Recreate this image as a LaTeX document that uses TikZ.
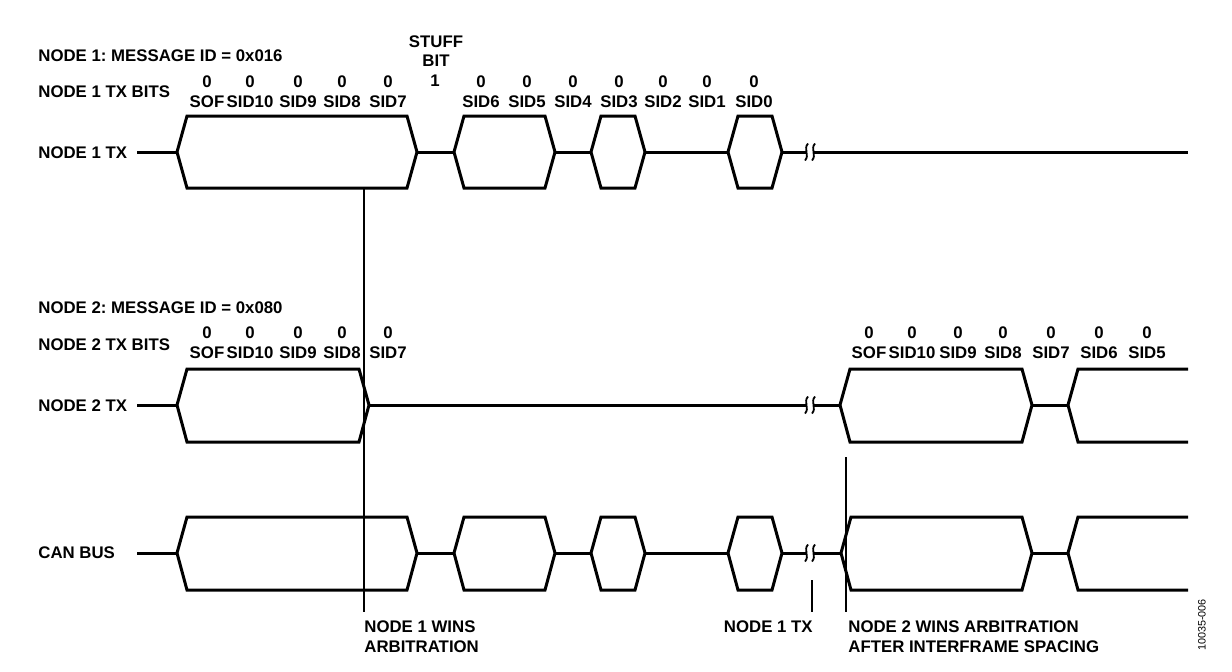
\documentclass[tikz,border=0pt]{standalone}
\usepackage{fontspec}
\setmainfont{Liberation Sans}
\frenchspacing
\begin{document}
\begin{tikzpicture}[x=0.5pt,y=-0.5pt,
  wave/.style={line width=1.5pt,line join=miter},
  thin/.style={line width=0.6pt},
  sq/.style={line width=0.9pt},
  lbl/.style={font=\bfseries\fontsize{8.4}{10}\selectfont,inner sep=0pt},
  tag/.style={font=\fontsize{5.4}{6}\selectfont,inner sep=0pt}]
\useasboundingbox (0,0) rectangle (1232,671);
% hexagon: #1 left point, #2 right point, #3 top, #4 mid, #5 bottom
\newcommand\hexb[5]{\draw[wave] (#1,#4) -- (#1+10,#3) -- (#2-10,#3) -- (#2,#4) -- (#2-10,#5) -- (#1+10,#5) -- cycle;}
\newcommand\openb[4]{\draw[wave] (1188,#2) -- (#1+10,#2) -- (#1,#3) -- (#1+10,#4) -- (1188,#4);}
\newcommand\squig[1]{%
  \fill[white] (806,#1-7) rectangle (814,#1+7);
  \draw[sq] (808,#1-8.5) .. controls (803,#1-3) and (810,#1+3) .. (805,#1+8.5);
  \draw[sq] (815,#1-8.5) .. controls (810,#1-3) and (817,#1+3) .. (812,#1+8.5);}

% ---------- NODE 1 ----------
\node[lbl,anchor=west] (m1) at (38,56) {NODE 1: MESSAGE ID = 0x016};
\node[lbl,anchor=west] (b1) at (38,92) {NODE 1 TX BITS};
\node[lbl,anchor=west] (t1) at (38,153) {NODE 1 TX};
\node[lbl] (stuffA) at (436,42) {STUFF};
\node[lbl] (stuffB) at (436,61) {BIT};
\node[lbl] (stuffC) at (435,81) {1};
\foreach \x/\n [count=\i] in {207/SOF,250/SID10,298/SID9,342/SID8,388/SID7,481/SID6,527/SID5,573/SID4,619/SID3,663/SID2,707/SID1,754/SID0}{
  \node[lbl] (na\i) at (\x,82) {0};
  \node[lbl] (nb\i) at (\x,102) {\n};
}
\draw[wave] (137,152) -- (177,152);
\hexb{177}{417}{116}{152}{188}
\draw[wave] (417,152) -- (454,152);
\hexb{454}{555}{116}{152}{188}
\draw[wave] (555,152) -- (591,152);
\hexb{591}{645}{116}{152}{188}
\draw[wave] (645,152) -- (728,152);
\hexb{728}{782}{116}{152}{188}
\draw[wave] (782,152) -- (1188,152);
\squig{152}

% ---------- NODE 2 ----------
\node[lbl,anchor=west] (m2) at (38,308) {NODE 2: MESSAGE ID = 0x080};
\node[lbl,anchor=west] (b2) at (38,345) {NODE 2 TX BITS};
\node[lbl,anchor=west] (t2) at (38,406) {NODE 2 TX};
\foreach \x/\n [count=\i] in {207/SOF,250/SID10,298/SID9,342/SID8,388/SID7}{
  \node[lbl] (pa\i) at (\x,333) {0};
  \node[lbl] (pb\i) at (\x,353) {\n};
}
\foreach \x/\n [count=\i] in {869/SOF,912/SID10,958/SID9,1003/SID8,1051/SID7,1099/SID6,1147/SID5}{
  \node[lbl] (qa\i) at (\x,333) {0};
  \node[lbl] (qb\i) at (\x,353) {\n};
}
\draw[wave] (137,405) -- (177,405);
\hexb{177}{369}{369}{405}{442}
\draw[wave] (369,405) -- (840,405);
\squig{405}
\hexb{840}{1032}{369}{405}{442}
\draw[wave] (1032,405) -- (1068,405);
\openb{1068}{369}{405}{442}

% ---------- CAN BUS ----------
\node[lbl,anchor=west] (cb) at (38,553) {CAN BUS};
\draw[wave] (137,553) -- (177,553);
\hexb{177}{417}{517}{553}{590}
\draw[wave] (417,553) -- (454,553);
\hexb{454}{555}{517}{553}{590}
\draw[wave] (555,553) -- (591,553);
\hexb{591}{645}{517}{553}{590}
\draw[wave] (645,553) -- (728,553);
\hexb{728}{782}{517}{553}{590}
\draw[wave] (782,553) -- (841,553);
\squig{553}
\hexb{841}{1032}{517}{553}{590}
\draw[wave] (1032,553) -- (1068,553);
\openb{1068}{517}{553}{590}

% ---------- markers ----------
\coordinate (v1a) at (364,189);
\coordinate (v1b) at (364,612);
\coordinate (v2a) at (812,580);
\coordinate (v2b) at (812,612);
\coordinate (v3a) at (846,457);
\coordinate (v3b) at (846,612);
\draw[thin] (v1a) -- (v1b);
\draw[thin] (v2a) -- (v2b);
\draw[thin] (v3a) -- (v3b);

\node[lbl,anchor=west] (w1a) at (364,627) {NODE 1 WINS};
\node[lbl,anchor=west] (w1b) at (364,647) {ARBITRATION};
\node[lbl,anchor=east] (w2) at (813,627) {NODE 1 TX};
\node[lbl,anchor=west] (w3a) at (848,627) {NODE 2 WINS ARBITRATION};
\node[lbl,anchor=west] (w3b) at (848,647) {AFTER INTERFRAME SPACING};
\node[tag,rotate=90] (fig) at (1202,625) {10035-006};
\end{tikzpicture}
\end{document}
